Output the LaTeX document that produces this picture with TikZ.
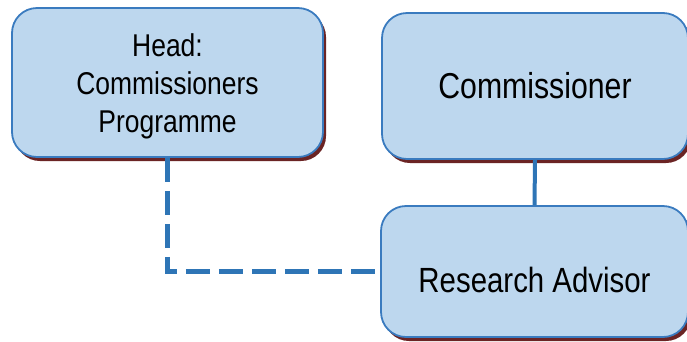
\documentclass[tikz,border=0pt]{standalone}
\usepackage{fontspec}
\newfontfamily\boxfont[FakeStretch=0.84]{Liberation Sans}
\usepackage{tikz}
\usetikzlibrary{shadows}
\definecolor{boxfill}{HTML}{BDD7EE}
\definecolor{boxline}{HTML}{3A7BBF}
\definecolor{boxshadow}{HTML}{6B2424}
\definecolor{linkblue}{HTML}{2E75B6}
\tikzstyle{orgbox} = [rectangle, draw=boxline, line width=1.8pt, fill=boxfill, rounded corners=25pt, text centered, drop shadow={shadow xshift=3pt, shadow yshift=-4pt, fill=boxshadow, opacity=1}]
\tikzstyle{solidlink} = [draw=linkblue, line width=4pt]
\tikzstyle{dashlink} = [draw=linkblue, line width=5pt, dash pattern=on 24pt off 9pt]

\begin{document}
\begin{tikzpicture}[x=1pt, y=-1pt]
\useasboundingbox (0,0) rectangle (687,341);

\node [orgbox, minimum width=311pt, minimum height=149pt, font=\boxfont\fontsize{31.5}{38}\selectfont] (head) at (167.5,82.5) {\raisebox{-4pt}[\height][\depth]{\begin{tabular}{@{}c@{}}Head:\\Commissioners\\Programme\end{tabular}}};
\node [orgbox, minimum width=306pt, minimum height=146pt, font=\boxfont\fontsize{36}{40}\selectfont] (commish) at (535,86) {Commissioner};
\node [orgbox, minimum width=307pt, minimum height=131pt, font=\boxfont\fontsize{35}{40}\selectfont] (advisor) at (534.5,271.5) {\raisebox{-8pt}[\height][\depth]{Research Advisor}};

\path [solidlink] (commish.south) -- (advisor.north);
\path [dashlink] (head.south) |- (advisor.west);

\end{tikzpicture}
\end{document}
